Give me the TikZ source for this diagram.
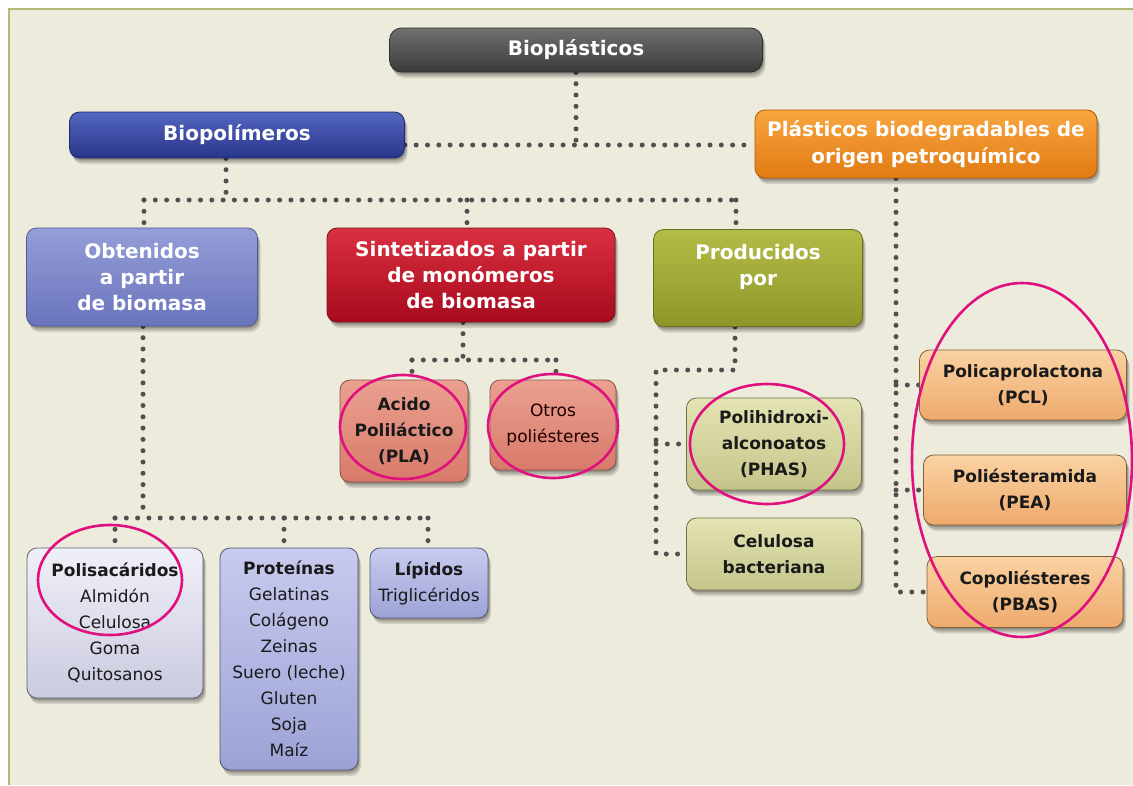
\documentclass[tikz,border=0pt]{standalone}
\usepackage{fontspec}
\setmainfont{DejaVu Sans}
\usetikzlibrary{shadows}
\pgfdeclarelayer{bg}
\pgfsetlayers{bg,main}
\definecolor{cream}{HTML}{EDEBDC}
\definecolor{framecol}{HTML}{B5B774}
\definecolor{dotcol}{HTML}{505050}
\definecolor{pinkline}{HTML}{E0107F}
\definecolor{grayT}{HTML}{707070}\definecolor{grayB}{HTML}{3A3A3A}\definecolor{grayD}{HTML}{2E2E2E}
\definecolor{blueT}{HTML}{5566C0}\definecolor{blueB}{HTML}{28368A}\definecolor{blueD}{HTML}{1E2A6A}
\definecolor{oraT}{HTML}{F9A640}\definecolor{oraB}{HTML}{E27A12}\definecolor{oraD}{HTML}{B05A08}
\definecolor{lavT}{HTML}{959ED8}\definecolor{lavB}{HTML}{6A74BC}\definecolor{lavD}{HTML}{50589A}
\definecolor{redT}{HTML}{D93040}\definecolor{redB}{HTML}{A80A1E}\definecolor{redD}{HTML}{80101C}
\definecolor{oliT}{HTML}{B4BC48}\definecolor{oliB}{HTML}{8E9628}\definecolor{oliD}{HTML}{6A7020}
\definecolor{salT}{HTML}{EBA090}\definecolor{salB}{HTML}{D87A6A}\definecolor{salD}{HTML}{8A5048}
\definecolor{polT}{HTML}{E4E4B4}\definecolor{polB}{HTML}{C4C48A}\definecolor{polD}{HTML}{707050}
\definecolor{peaT}{HTML}{FAD2A2}\definecolor{peaB}{HTML}{EEAA6C}\definecolor{peaD}{HTML}{80603A}
\definecolor{pisT}{HTML}{F0F0F8}\definecolor{pisB}{HTML}{CACAE0}\definecolor{pisD}{HTML}{606070}
\definecolor{prT}{HTML}{C8CBEE}\definecolor{prB}{HTML}{9CA2D6}\definecolor{prD}{HTML}{505878}
\definecolor{txtdark}{HTML}{1A1A1A}
\tikzset{
  box/.style={rounded corners=10pt, line width=0.8pt, align=center, inner sep=0pt,
    general shadow={shadow xshift=3pt, shadow yshift=-6pt, fill=black, opacity=0.12},
    general shadow={shadow xshift=2pt, shadow yshift=-4pt, fill=black, opacity=0.15},
    general shadow={shadow xshift=1pt, shadow yshift=-2pt, fill=black, opacity=0.18}},
  hdr/.style={font=\bfseries\fontsize{20}{26}\selectfont, text=white},
  txt/.style={font=\fontsize{17}{26}\selectfont, text=txtdark},
  btxt/.style={font=\bfseries\fontsize{17}{26}\selectfont, text=txtdark},
  graybox/.style={box, hdr, draw=grayD, top color=grayT, bottom color=grayB},
  bluebox/.style={box, hdr, draw=blueD, top color=blueT, bottom color=blueB},
  orabox/.style={box, hdr, draw=oraD, top color=oraT, bottom color=oraB},
  lavbox/.style={box, hdr, draw=lavD, top color=lavT, bottom color=lavB},
  redbox/.style={box, hdr, draw=redD, top color=redT, bottom color=redB},
  olibox/.style={box, hdr, draw=oliD, top color=oliT, bottom color=oliB},
  salbox/.style={box, draw=salD, top color=salT, bottom color=salB},
  pabox/.style={box, btxt, draw=polD, top color=polT, bottom color=polB},
  peabox/.style={box, btxt, draw=peaD, top color=peaT, bottom color=peaB},
  pisbox/.style={box, txt, draw=pisD, top color=pisT, bottom color=pisB},
  prbox/.style={box, txt, draw=prD, top color=prT, bottom color=prB},
  conn/.style={dotcol, line width=5pt, line cap=round, dash pattern=on 0pt off 11.3pt},
  hl/.style={draw=pinkline, line width=2.6pt}
}
\begin{document}
\begin{tikzpicture}[x=1pt,y=-1pt]
\useasboundingbox (0,0) rectangle (1133,785);
\begin{pgfonlayer}{bg}
\fill[white] (0,0) rectangle (1133,785);
\fill[cream] (9,9) rectangle (1133,785);
\draw[framecol, line width=2pt] (9,785) -- (9,9) -- (1133,9);
\end{pgfonlayer}

% level 0-1
\node[graybox, rounded corners=12pt, minimum width=373pt, minimum height=44pt] (bio) at (576,50) {Bioplásticos};
\node[bluebox, minimum width=335pt, minimum height=46pt] (biopol) at (237,135) {Biopolímeros};
\node[orabox, minimum width=342pt, minimum height=68pt, font=\bfseries\fontsize{20}{27}\selectfont] (petro) at (926,144) {Plásticos biodegradables de\\origen petroquímico};

% level 2
\node[lavbox, minimum width=231pt, minimum height=98pt] (obt) at (142,277) {Obtenidos\\a partir\\de biomasa};
\node[redbox, minimum width=288pt, minimum height=94pt] (sint) at (471,275) {Sintetizados a partir\\de monómeros\\de biomasa};
\node[olibox, minimum width=209pt, minimum height=97pt] (prod) at (758,278) {Producidos\\por\\\mbox{}};

% level 3
\node[salbox, btxt, minimum width=128pt, minimum height=102pt] (pla) at (404,431) {Acido\\Poliláctico\\(PLA)};
\node[salbox, txt, text=black!80!red!60!black, minimum width=126pt, minimum height=90pt] (otros) at (553,425) {Otros\\poliésteres};
\node[pabox, minimum width=175pt, minimum height=92pt] (phas) at (774,444) {Polihidroxi-\\alconoatos\\(PHAS)};
\node[pabox, minimum width=175pt, minimum height=72pt] (celb) at (774,554) {Celulosa\\bacteriana};
\node[peabox, minimum width=207pt, minimum height=70pt] (pcl) at (1023,385) {Policaprolactona\\(PCL)};
\node[peabox, minimum width=203pt, minimum height=70pt] (pea) at (1025,490) {Poliésteramida\\(PEA)};
\node[peabox, minimum width=196pt, minimum height=71pt] (pbas) at (1025,592) {Copoliésteres\\(PBAS)};

\node[pisbox, minimum width=176pt, minimum height=150pt] (polis) at (115,623) {\textbf{Polisacáridos}\\Almidón\\Celulosa\\Goma\\Quitosanos};
\node[prbox, minimum width=138pt, minimum height=222pt] (prot) at (289,659) {\textbf{Proteínas}\\Gelatinas\\Colágeno\\Zeinas\\Suero (leche)\\Gluten\\Soja\\Maíz};
\node[prbox, minimum width=118pt, minimum height=70pt] (lip) at (429,583) {\textbf{Lípidos}\\Triglicéridos};

% connectors
\begin{pgfonlayer}{bg}
\coordinate (j0) at (576,145);
\draw[conn] (bio.south) -- (j0);
\draw[conn] (biopol.east |- j0) -- (petro.west |- j0);

\coordinate (j1) at (226,200);
\coordinate (j1a) at (144,200);
\coordinate (j1b) at (467,200);
\coordinate (j1c) at (736,200);
\draw[conn] (biopol.south -| j1) -- (j1);
\draw[conn] (j1a) -- (j1c);
\draw[conn] (j1a) -- (j1a |- obt.north);
\draw[conn] (j1b) -- (j1b |- sint.north);
\draw[conn] (j1c) -- (j1c |- prod.north);

\coordinate (j2) at (143,518);
\coordinate (j2a) at (115,518);
\coordinate (j2b) at (284,518);
\coordinate (j2c) at (428,518);
\draw[conn] (obt.south -| j2) -- (j2);
\draw[conn] (j2a) -- (j2c);
\draw[conn] (j2a) -- (j2a |- polis.north);
\draw[conn] (j2b) -- (j2b |- prot.north);
\draw[conn] (j2c) -- (j2c |- lip.north);

\coordinate (j3) at (463,360);
\coordinate (j3a) at (412,360);
\coordinate (j3b) at (556,360);
\draw[conn] (sint.south -| j3) -- (j3);
\draw[conn] (j3a) -- (j3b);
\draw[conn] (j3a) -- (j3a |- pla.north);
\draw[conn] (j3b) -- (j3b |- otros.north);

\coordinate (j4) at (735,370);
\coordinate (j4a) at (656,370);
\draw[conn] (prod.south -| j4) -- (j4) -- (j4a) -- (j4a |- celb.west) -- (celb.west);
\draw[conn] (j4a |- phas.west) -- (phas.west);

\coordinate (j5) at (896,0);
\draw[conn] (petro.south -| j5) -- (j5 |- pbas.west) -- (pbas.west);
\draw[conn] (j5 |- pcl.west) -- (pcl.west);
\draw[conn] (j5 |- pea.west) -- (pea.west);
\end{pgfonlayer}

% highlight ellipses
\draw[hl] (403,427) ellipse [x radius=63pt, y radius=52pt];
\draw[hl] (553,426) ellipse [x radius=65pt, y radius=52pt];
\draw[hl] (767,444) ellipse [x radius=77pt, y radius=60pt];
\draw[hl] (1022,460) ellipse [x radius=110pt, y radius=177pt];
\draw[hl] (110,580) ellipse [x radius=72pt, y radius=55pt];
\end{tikzpicture}
\end{document}
